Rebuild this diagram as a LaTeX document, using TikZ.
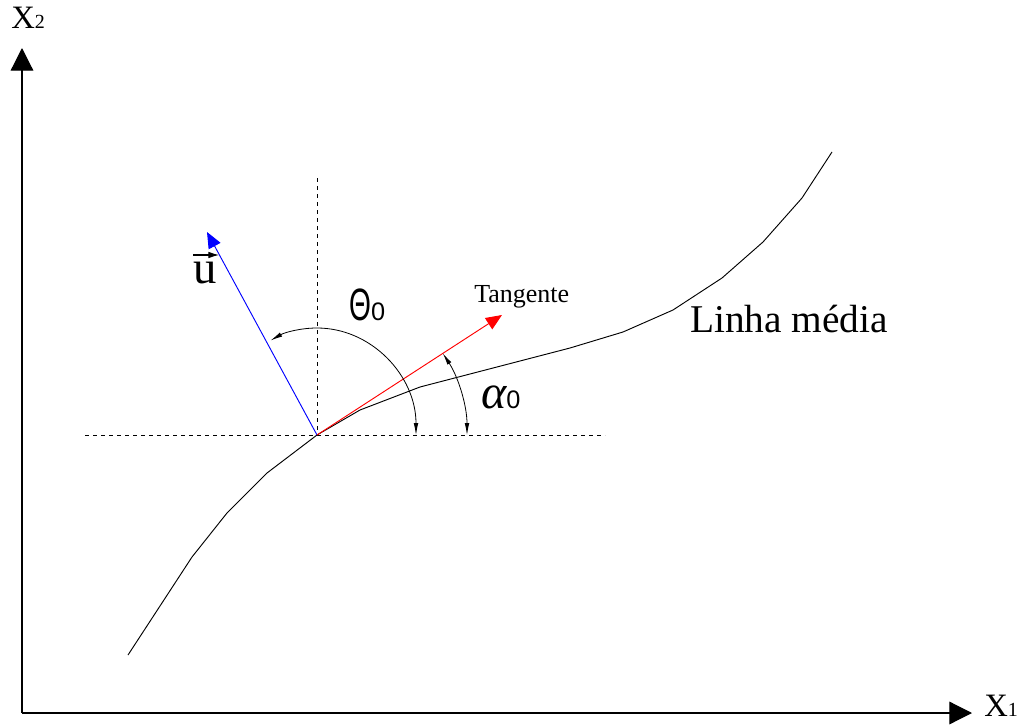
\documentclass[tikz,border=0pt]{standalone}
\usepackage{fontspec}
\setmainfont{Liberation Serif}
\newfontfamily\symfont{Liberation Sans}
\usepackage{tikz}
\usetikzlibrary{arrows.meta,calc}

\tikzset{
    axisline/.style={line width=0.9pt, -{Triangle[length=17pt,width=17pt]}},
    guide/.style={dash pattern=on 3pt off 3pt, line width=0.6pt},
    vecline/.style={line width=0.7pt},
    anglearc/.style={line width=0.6pt, {Latex[length=9pt,width=3.5pt]}-{Latex[length=9pt,width=3.5pt]}}
}

\begin{document}
\begin{tikzpicture}[x=0.75pt,y=-0.75pt]
        \useasboundingbox (0,0) rectangle (1022,728);

        % Points
        \coordinate (O) at (22,713);
        \coordinate (P) at (317,435);
        \coordinate (Ytip) at (22,48);
        \coordinate (Xtip) at (972,713);
        \coordinate (Utip) at (207,232);
        \coordinate (Ttip) at (502,315);

        % Axis
        \draw[axisline] (O) -- (Ytip);
        \draw[axisline] (O) -- (Xtip);
        \node[anchor=base west, inner sep=0pt] (x2) at (11,28) {\fontsize{24.5}{25}\selectfont X\fontsize{15}{15}\selectfont 2};
        \node[anchor=base west, inner sep=0pt] (x1) at (984,716) {\fontsize{24.5}{25}\selectfont X\fontsize{15}{15}\selectfont 1};

        % Reference lines
        \draw[guide] (85,435) -- (605,435);
        \draw[guide] (317,178) -- (P);

        % Linha media
        \draw[line width=0.7pt] plot coordinates {(128,655) (192,557) (227,513) (267,473) (317,435) (360,410)
            (420,387) (570,348) (623,332) (673,310) (722,278) (763,242) (802,198) (832,152)};
        \node[anchor=base west, inner sep=0pt] (linha) at (690,332) {\fontsize{29.5}{30}\selectfont Linha média};

        % Vectors
        \draw[vecline, blue, -{Triangle[length=12pt,width=10pt]}] (P) -- (Utip);
        \draw[vecline, red, -{Triangle[length=12pt,width=10pt]}] (P) -- (Ttip);
        \node[anchor=base west, inner sep=0pt] (u) at (193,283) {\fontsize{35}{35}\selectfont u};
        \draw[line width=0.8pt, -{Latex[length=8pt,width=5pt]}] (193,255) -- (219,255);
        \node[anchor=base west, inner sep=0pt] (tang) at (474,302) {\fontsize{19.5}{20}\selectfont Tangente};

        % Angles
        \draw[anglearc] ($(P)+(99,0)$) arc[start angle=0, end angle=-118, x radius=99, y radius=107];
        \draw[anglearc] ($(P)+(150,0)$) arc[start angle=0, end angle=-33, radius=150];
        \node[anchor=base west, inner sep=0pt] (theta) at (349,320) {\symfont\fontsize{34}{34}\selectfont\scalebox{0.62}[1]{Θ}\fontsize{19}{19}\selectfont 0};
        \node[anchor=base west, inner sep=0pt] (alpha) at (481,408) {\fontsize{36}{36}\selectfont\itshape α\symfont\upshape\fontsize{19}{19}\selectfont 0};
    \end{tikzpicture}
\end{document}
